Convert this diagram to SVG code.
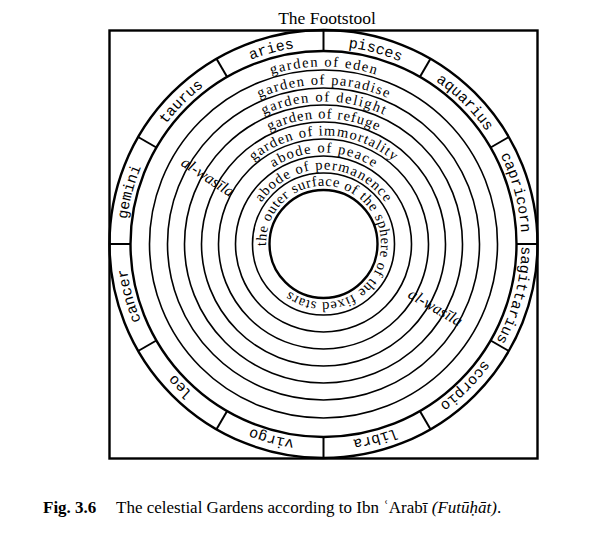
<svg xmlns="http://www.w3.org/2000/svg" xmlns:xlink="http://www.w3.org/1999/xlink" width="605" height="540" viewBox="0 0 605 540">
<style>
.bg{fill:#fff}
.thick{fill:none;stroke:#000;stroke-width:2.4}
.ring{fill:none;stroke:#000;stroke-width:1.6}
.div{stroke:#000;stroke-width:2}
.z{font-family:"Liberation Mono","Courier New",monospace;font-size:15px;fill:#000}
.g{font-family:"Liberation Serif","Times New Roman",serif;font-size:14.5px;fill:#000}
.w{font-family:"Liberation Serif","Times New Roman",serif;font-size:16px;font-style:italic;fill:#000}
.t{font-family:"Liberation Serif","Times New Roman",serif;fill:#000}
</style>
<defs>
<path id="pz" d="M323.5 46 A198 198 0 1 1 323.5 442 A198 198 0 1 1 323.5 46"/>
<path id="p1" d="M146 244 A177.5 177.5 0 0 1 501 244"/>
<path id="p2" d="M164 244 A159.5 159.5 0 0 1 483 244"/>
<path id="p3" d="M181 244 A142.5 142.5 0 0 1 466 244"/>
<path id="p4" d="M198 244 A125.5 125.5 0 0 1 449 244"/>
<path id="p5" d="M215 244 A108.5 108.5 0 0 1 432 244"/>
<path id="p6" d="M232 244 A91.5 91.5 0 0 1 415 244"/>
<path id="p7" d="M249 244 A74.5 74.5 0 0 1 398 244"/>
<path id="p8" d="M266.04 246 A57.5 57.5 0 1 1 380.96 242 A57.5 57.5 0 1 1 266.04 246"/>
</defs>
<rect class="bg" x="0" y="0" width="605" height="540"/>
<g id="title"><text class="t" x="327" y="23.5" font-size="17.5" text-anchor="middle">The Footstool</text></g>
<g id="frame"><rect class="thick" x="109.5" y="30.5" width="428" height="428" stroke-width="2"/></g>
<g id="circles">
<circle class="thick" cx="323.5" cy="244" r="214"/>
<circle class="thick" cx="323.5" cy="244" r="193"/>
<circle class="ring" cx="323.5" cy="244" r="174"/>
<circle class="ring" cx="323.5" cy="244" r="156"/>
<circle class="ring" cx="323.5" cy="244" r="139"/>
<circle class="ring" cx="323.5" cy="244" r="122"/>
<circle class="ring" cx="323.5" cy="244" r="105"/>
<circle class="ring" cx="323.5" cy="244" r="88"/>
<circle class="ring" cx="323.5" cy="244" r="71"/>
<circle class="thick" cx="323.5" cy="244" r="54" stroke-width="2"/>
</g>
<g id="dividers">
<line class="div" x1="516.5" y1="244" x2="537.5" y2="244"/>
<line class="div" x1="490.64" y1="147.5" x2="508.83" y2="137"/>
<line class="div" x1="420" y1="76.86" x2="430.5" y2="58.67"/>
<line class="div" x1="323.5" y1="51" x2="323.5" y2="30"/>
<line class="div" x1="227" y1="76.86" x2="216.5" y2="58.67"/>
<line class="div" x1="156.36" y1="147.5" x2="138.17" y2="137"/>
<line class="div" x1="130.5" y1="244" x2="109.5" y2="244"/>
<line class="div" x1="156.36" y1="340.5" x2="138.17" y2="351"/>
<line class="div" x1="227" y1="411.14" x2="216.5" y2="429.33"/>
<line class="div" x1="323.5" y1="437" x2="323.5" y2="458"/>
<line class="div" x1="420" y1="411.14" x2="430.5" y2="429.33"/>
<line class="div" x1="490.64" y1="340.5" x2="508.83" y2="351"/>
</g>
<g id="zodiac">
<text class="z" text-anchor="middle"><textPath xlink:href="#pz" startOffset="4.167%">pisces</textPath></text>
<text class="z" text-anchor="middle"><textPath xlink:href="#pz" startOffset="12.5%">aquarius</textPath></text>
<text class="z" text-anchor="middle"><textPath xlink:href="#pz" startOffset="20.833%">capricorn</textPath></text>
<text class="z" text-anchor="middle"><textPath xlink:href="#pz" startOffset="29.167%">sagittarius</textPath></text>
<text class="z" text-anchor="middle"><textPath xlink:href="#pz" startOffset="37.5%">scorpio</textPath></text>
<text class="z" text-anchor="middle"><textPath xlink:href="#pz" startOffset="45.833%">libra</textPath></text>
<text class="z" text-anchor="middle"><textPath xlink:href="#pz" startOffset="54.167%">virgo</textPath></text>
<text class="z" text-anchor="middle"><textPath xlink:href="#pz" startOffset="62.5%">leo</textPath></text>
<text class="z" text-anchor="middle"><textPath xlink:href="#pz" startOffset="70.833%">cancer</textPath></text>
<text class="z" text-anchor="middle"><textPath xlink:href="#pz" startOffset="79.167%">gemini</textPath></text>
<text class="z" text-anchor="middle"><textPath xlink:href="#pz" startOffset="87.5%">taurus</textPath></text>
<text class="z" text-anchor="middle"><textPath xlink:href="#pz" startOffset="95.833%">aries</textPath></text>
</g>
<g id="gardens">
<text class="g" text-anchor="middle"><textPath xlink:href="#p1" startOffset="50%" textLength="106">garden of eden</textPath></text>
<text class="g" text-anchor="middle"><textPath xlink:href="#p2" startOffset="50%" textLength="132">garden of paradise</textPath></text>
<text class="g" text-anchor="middle"><textPath xlink:href="#p3" startOffset="50%" textLength="124">garden of delight</textPath></text>
<text class="g" text-anchor="middle"><textPath xlink:href="#p4" startOffset="50%" textLength="112">garden of refuge</textPath></text>
<text class="g" text-anchor="middle"><textPath xlink:href="#p5" startOffset="50%" textLength="152">garden of immortality</textPath></text>
<text class="g" text-anchor="middle"><textPath xlink:href="#p6" startOffset="50%" textLength="106">abode of peace</textPath></text>
<text class="g" text-anchor="middle" font-size="13.5"><textPath xlink:href="#p7" startOffset="50%" textLength="146">abode of permanence</textPath></text>
<text class="g" font-size="14.5"><textPath xlink:href="#p8" startOffset="0" textLength="311">the outer surface of the sphere of the fixed stars</textPath></text>
</g>
<g id="wasila">
<text class="w" x="180" y="165" transform="rotate(33 180 165)">al-wasīla</text>
<text class="w" x="407" y="297" transform="rotate(30 407 297)">al-wasīla</text>
</g>
<g id="caption">
<text class="t" x="43" y="513" font-size="17"><tspan font-weight="bold">Fig. 3.6</tspan><tspan x="116">The celestial Gardens according to Ibn ʿArabī </tspan><tspan font-style="italic">(Futūḥāt)</tspan>.</text>
</g>
</svg>
